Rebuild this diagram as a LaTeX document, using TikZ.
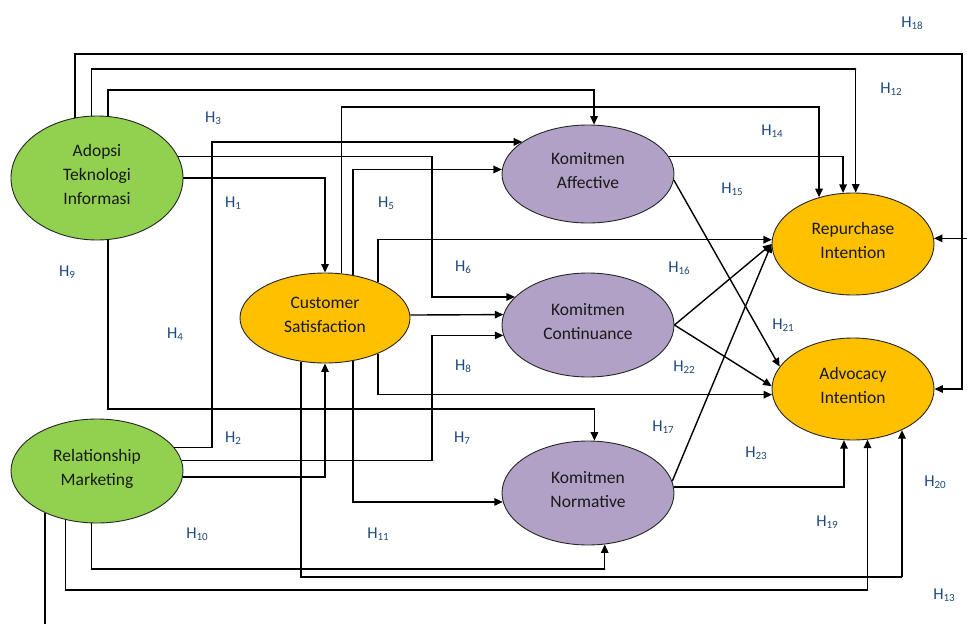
\documentclass[tikz,border=0pt]{standalone}
\usepackage{fontspec}
\setmainfont{Carlito}
\usetikzlibrary{shapes.geometric,arrows.meta}
\definecolor{adopgreen}{RGB}{146,208,80}
\definecolor{satorange}{RGB}{255,192,0}
\definecolor{komitpurple}{RGB}{178,161,199}
\definecolor{hypblue}{RGB}{31,73,125}
\newcommand\hsub[1]{H\raisebox{-2.5pt}{\fontsize{11}{11}\selectfont #1}}
\tikzset{
  construct/.style={ellipse, draw=black!85, line width=0.9pt, inner sep=0pt, align=center, text depth=7pt, text=black!90, font=\fontsize{17.5}{24}\selectfont},
  link/.style={line width=1.4pt, -{Triangle[length=8.5pt,width=7.5pt]}},
  hyp/.style={text=hypblue, inner sep=0pt, font=\fontsize{16.5}{18}\selectfont}
}
\begin{document}
\begin{tikzpicture}[x=1pt,y=-1pt]
	  \useasboundingbox (0,0) rectangle (967,624);
	  \fill [white] (0,0) rectangle (967,624);
	  \coordinate (bottomedge) at (0,624);
	  \coordinate (rightedge) at (967,0);
	  \node [construct, fill=adopgreen, minimum width=172pt, minimum height=124pt] (ati) at (97,178) {Adopsi\\Teknologi\\Informasi};
	  \node [construct, fill=adopgreen, minimum width=172pt, minimum height=104pt] (rm) at (97,471) {Relationship\\Marketing};
	  \node [construct, fill=satorange, minimum width=170pt, minimum height=90pt] (cs) at (325,318) {Customer\\Satisfaction};
	  \node [construct, fill=komitpurple, minimum width=172pt, minimum height=98pt] (ka) at (588,174) {Komitmen\\Affective};
	  \node [construct, fill=komitpurple, minimum width=172pt, minimum height=104pt] (kc) at (588,325) {Komitmen\\Continuance};
	  \node [construct, fill=komitpurple, minimum width=172pt, minimum height=104pt] (kn) at (588,493) {Komitmen\\Normative};
	  \node [construct, fill=satorange, minimum width=162pt, minimum height=102pt] (ri) at (853,244) {Repurchase\\Intention};
	  \node [construct, fill=satorange, minimum width=162pt, minimum height=102pt] (ai) at (853,389) {Advocacy\\Intention};
	  \draw [link] (ati.110) |- (962,54) |- (ai.east);
	  \draw [link] (ati.95) |- (856,69) -| (ri.87);
	  \draw [link] (ati.80) |- (594,90) -| (ka.83);
	  \draw [link] (ati.280) |- (594,409) -| (kn.83);
	  \draw [link] (ati.15) -| (432,250) |- (kc.159);
	  \draw [link] (ati.east) -| (cs.north);
	  \draw [link] (rm.17) -| (212,300) |- (ka.154);
	  \draw [link] (rm.7) -| (432,400) |- (kc.187);
	  \draw [link] (rm.356) -| (cs.south);
	  \draw [link] (rm.264) |- (605,569) -| (kn.288);
	  \draw [link] (rm.237) |- (867,590) -| (ai.286);
	  \draw [line width=1.4pt] (rm.219) -- (rm.219 |- bottomedge);
	  \draw [link] (ri.4 -| rightedge) -- (ri.4);
	  \draw [link] (cs.57) |- (ka.177);
	  \draw [link] (cs.70) |- (819,107) -| (ri.126);
	  \draw [link] (cs.34) |- (ri.177);
	  \draw [link] (cs.2) -- (kc.173);
	  \draw [link] (cs.326) |- (ai.184);
	  \draw [link] (cs.303) |- (kn.186);
	  \draw [link] (cs.241) |- (902,577) -| (ai.320);
	  \draw [link] (ka.12) -| (ri.101);
	  \draw [link] (ka.356) -- (ai.163);
	  \draw [link] (kc.east) -- (ri.west);
	  \draw [link] (kc.east) -- (ai.178);
	  \draw [link] (kn.8) -- (ri.west);
	  \draw [link] (kn.4) -| (ai.260);
	  \node [hyp] (h18) at (912,23) {\hsub{18}};
	  \node [hyp] (h12) at (891,89) {\hsub{12}};
	  \node [hyp] (h3) at (213,118) {\hsub{3}};
	  \node [hyp] (h14) at (772,131) {\hsub{14}};
	  \node [hyp] (h1) at (233,203) {\hsub{1}};
	  \node [hyp] (h5) at (386,203) {\hsub{5}};
	  \node [hyp] (h15) at (732,189) {\hsub{15}};
	  \node [hyp] (h9) at (67,272) {\hsub{9}};
	  \node [hyp] (h6) at (463,267) {\hsub{6}};
	  \node [hyp] (h16) at (679,268) {\hsub{16}};
	  \node [hyp] (h4) at (175,334) {\hsub{4}};
	  \node [hyp] (h21) at (783,325) {\hsub{21}};
	  \node [hyp] (h8) at (463,366) {\hsub{8}};
	  \node [hyp] (h22) at (684,367) {\hsub{22}};
	  \node [hyp] (h2) at (233,438) {\hsub{2}};
	  \node [hyp] (h7) at (462,438) {\hsub{7}};
	  \node [hyp] (h17) at (663,427) {\hsub{17}};
	  \node [hyp] (h23) at (756,453) {\hsub{23}};
	  \node [hyp] (h20) at (935,482) {\hsub{20}};
	  \node [hyp] (h19) at (827,522) {\hsub{19}};
	  \node [hyp] (h10) at (197,534) {\hsub{10}};
	  \node [hyp] (h11) at (378,534) {\hsub{11}};
	  \node [hyp] (h13) at (944,595) {\hsub{13}};
\end{tikzpicture}
\end{document}
